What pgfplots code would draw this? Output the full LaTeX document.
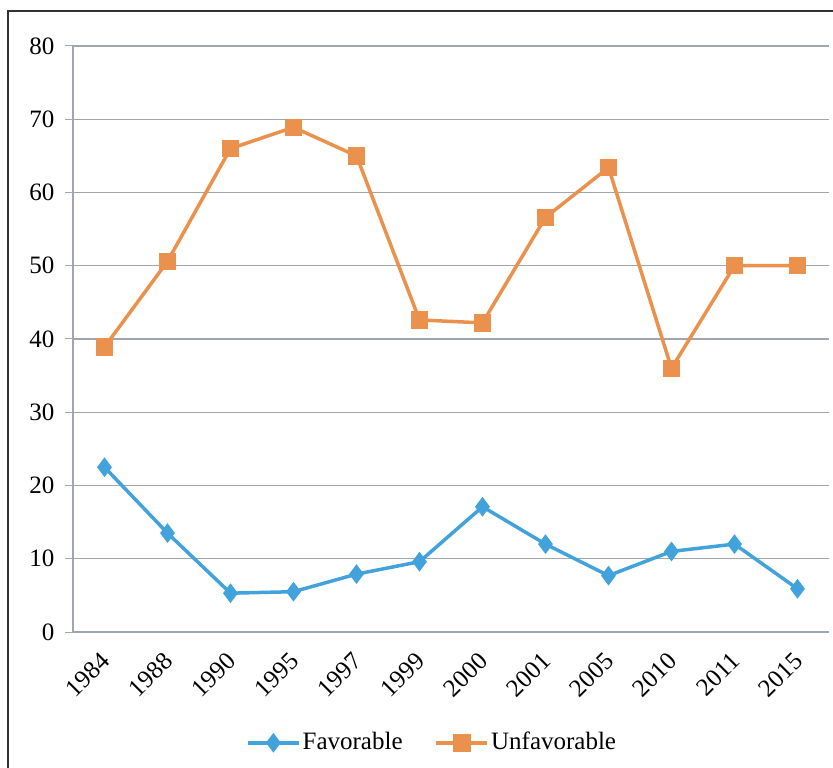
\documentclass[border=0pt]{standalone}
\usepackage{pgfplots}
\pgfplotsset{compat=1.18}
\usepackage{fontspec}
\setmainfont{Liberation Serif}
\definecolor{favc}{RGB}{66,163,220}
\definecolor{unfc}{RGB}{235,145,78}
\definecolor{gridc}{RGB}{160,165,174}
\begin{document}
\fontsize{25bp}{30bp}\selectfont
\begin{tikzpicture}
\useasboundingbox (-73bp,-136bp) rectangle (760bp,632bp);
\draw[line width=1.4bp, black!80] (-65bp,-140bp) -- (-65bp,621bp) -- (765bp,621bp);
\begin{axis}[
  at={(0,0)}, anchor=south west,
  scale only axis, width=756bp, height=586bp,
  xmin=-0.5, xmax=11.5, ymin=0, ymax=80,
  ytick={0,10,...,80},
  xtick={0,...,11},
  xticklabels={1984,1988,1990,1995,1997,1999,2000,2001,2005,2010,2011,2015},
  extra x ticks={-0.5,0.5,...,11.5},
  extra x tick labels={},
  extra x tick style={major tick length=8bp, tick style={gridc, line width=1bp}, grid=none},
  x tick style={draw=none},
  major tick length=8bp,
  y tick style={gridc, line width=1bp},
  tick align=outside,
  axis x line*=bottom, axis y line*=left,
  axis line style={gridc, line width=1.2bp, -},
  ymajorgrids, grid style={gridc, line width=1.2bp},
  /pgf/number format/assume math mode=true,
  yticklabel style={font=\fontsize{25bp}{30bp}\selectfont, black, xshift=-2bp},
  xticklabel style={font=\fontsize{25bp}{30bp}\selectfont, black, xshift=7bp, yshift=-11bp, rotate=45, anchor=east},
  legend style={at={(0.475,-0.189)}, anchor=center, draw=none, legend columns=2,
    font=\fontsize{25bp}{30bp}\selectfont, /tikz/every even column/.append style={column sep=30bp}},
  legend image code/.code={\draw[mark repeat=2,mark phase=2] plot coordinates {(0cm,0cm)(0.9cm,0cm)(1.8cm,0cm)};},
]
\addplot[color=favc, line width=3.5bp, mark=diamond*, mark size=7bp, mark options={solid}] coordinates {
 (0,22.5) (1,13.5) (2,5.3) (3,5.5) (4,7.9) (5,9.6) (6,17.1) (7,12.0) (8,7.7) (9,11.0) (10,12.0) (11,5.9)};
\addlegendentry{Favorable}
\addplot[color=unfc, line width=3.5bp, mark=square*, mark size=7bp, mark options={solid}] coordinates {
 (0,38.9) (1,50.6) (2,66.0) (3,68.9) (4,65.0) (5,42.6) (6,42.2) (7,56.6) (8,63.4) (9,36.0) (10,50.0) (11,50.0)};
\addlegendentry{Unfavorable}
\end{axis}
\end{tikzpicture}
\end{document}
